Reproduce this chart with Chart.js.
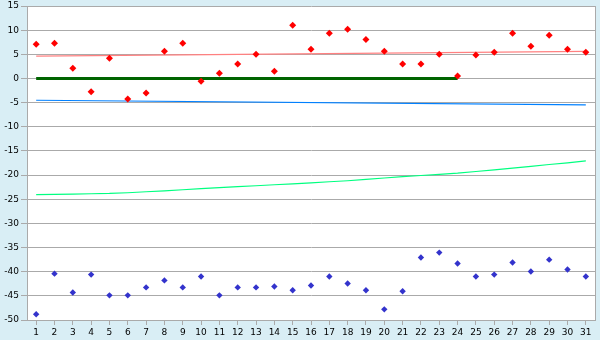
<!DOCTYPE html>
<html>
<head>
<meta charset="utf-8">
<script src="https://cdn.jsdelivr.net/npm/chart.js@4.4.0/dist/chart.umd.min.js"></script>
<style>
  body { margin: 0; background: rgb(217, 238, 245); }
  #wrap { width: 600px; height: 340px; }
</style>
</head>
<body>
<div id="wrap"><canvas id="myChart" width="600" height="340"></canvas></div>
<script>
// days on the x axis
const days = ['1','2','3','4','5','6','7','8','9','10','11','12','13','14','15','16',
  '17','18','19','20','21','22','23','24','25','26','27','28','29','30','31']

// red markers (upper series)
const redVals = [7.1, 7.3, 2.1, -2.75, 4.2, -4.25, -3.0, 5.65, 7.3, -0.55, 1.1, 3.0, 5.0, 1.5, 11.0,
  6.05, 9.35, 10.2, 8.1, 5.65, 3.0, 3.0, 5.0, 0.5, 4.85, 5.45, 9.35, 6.7, 8.95, 6.05, 5.45]

// blue markers (lower series)
const blueVals = [-48.8, -40.4, -44.3, -40.6, -44.9, -44.9, -43.25, -41.8, -43.25, -41.0, -44.9,
  -43.25, -43.25, -43.05, -43.85, -42.85, -41.0, -42.45, -43.85, -47.8, -44.05, -37.05, -36.05,
  -38.3, -41.0, -40.6, -38.1, -39.95, -37.5, -39.55, -41.0]

// green curve, read at each day
const greenCurve = [-24.06, -24.0, -23.95, -23.86, -23.8, -23.65, -23.45, -23.25, -23.03, -22.8,
  -22.6, -22.4, -22.2, -22.0, -21.8, -21.6, -21.38, -21.17, -20.9, -20.6, -20.3, -20.08, -19.85,
  -19.6, -19.25, -18.9, -18.55, -18.2, -17.8, -17.45, -17.05]

// straight lines: [start, end] values
const pinkEnds = [4.65, 5.6]
const skyEnds = [-4.5, -5.45]
const zeroEnds = [0, 0]
const zeroDays = ['1', '24']

const yTicks = {min: -50, max: 15, step: 5}

const ends = (lbls, vals) => [{x: lbls[0], y: vals[0]}, {x: lbls[1], y: vals[1]}]

const bgPlugin = {
  id: 'bg',
  beforeDraw: (chart) => {
    const ctx = chart.ctx
    const a = chart.chartArea
    ctx.save()
    ctx.fillStyle = 'rgb(217, 238, 245)'
    ctx.fillRect(0, 0, chart.width, chart.height)
    ctx.fillStyle = '#ffffff'
    ctx.fillRect(a.left, a.top, a.right - a.left, a.bottom - a.top)
    ctx.restore()
  },
  afterDraw: (chart) => {
    const ctx = chart.ctx
    const a = chart.chartArea
    ctx.save()
    ctx.strokeStyle = '#aaaaaa'
    ctx.lineWidth = 1
    ctx.beginPath()
    ctx.moveTo(Math.round(a.right) + 0.5, a.top)
    ctx.lineTo(Math.round(a.right) + 0.5, a.bottom)
    ctx.stroke()
    ctx.restore()
  }
}

Chart.defaults.font.family = '"DejaVu Sans", Verdana, sans-serif'
Chart.defaults.font.size = 9
Chart.defaults.color = '#000000'

const data = {
  labels: days,
  datasets: [
    {
      label: 'red',
      data: redVals,
      showLine: false,
      pointStyle: 'rectRot',
      pointRadius: 3.5,
      pointBorderWidth: 0,
      pointBackgroundColor: '#ff0000'
    },
    {
      label: 'blue',
      data: blueVals,
      showLine: false,
      pointStyle: 'rectRot',
      pointRadius: 3.2,
      pointBorderWidth: 0,
      pointBackgroundColor: 'rgb(51, 51, 204)'
    },
    {
      label: 'zero',
      data: ends(zeroDays, zeroEnds),
      borderColor: 'rgb(0, 100, 0)',
      borderWidth: 3,
      pointRadius: 0
    },
    {
      label: 'pink',
      data: ends([days[0], days[30]], pinkEnds),
      borderColor: 'rgb(255, 128, 128)',
      borderWidth: 1.2,
      pointRadius: 0
    },
    {
      label: 'sky',
      data: ends([days[0], days[30]], skyEnds),
      borderColor: 'rgb(0, 128, 255)',
      borderWidth: 1.2,
      pointRadius: 0
    },
    {
      label: 'green',
      data: greenCurve,
      borderColor: 'rgb(0, 255, 128)',
      borderWidth: 1.2,
      pointRadius: 0
    }
  ]
}

const config = {
  type: 'line',
  data,
  plugins: [bgPlugin],
  options: {
    responsive: false,
    devicePixelRatio: 1,
    animation: false,
    layout: {padding: {top: 5, right: 5, left: 0, bottom: 0}},
    plugins: {
      legend: {display: false},
      tooltip: {enabled: false}
    },
    scales: {
      x: {
        type: 'category',
        offset: true,
        grid: {drawOnChartArea: false, drawTicks: true, tickLength: 5, color: '#aaaaaa', offset: false},
        border: {display: true, color: '#aaaaaa'},
        ticks: {maxRotation: 0, autoSkip: false, padding: 2},
        afterFit: (s) => { s.height = 20 }
      },
      y: {
        min: yTicks.min,
        max: yTicks.max,
        grid: {color: '#aaaaaa', tickLength: 6},
        border: {display: true, color: '#aaaaaa'},
        ticks: {stepSize: yTicks.step, padding: 2, font: {lineHeight: 0.9}},
        afterFit: (s) => { s.width = 27 }
      }
    }
  }
}

const myChart = new Chart(document.getElementById('myChart'), config)
</script>
</body>
</html>
